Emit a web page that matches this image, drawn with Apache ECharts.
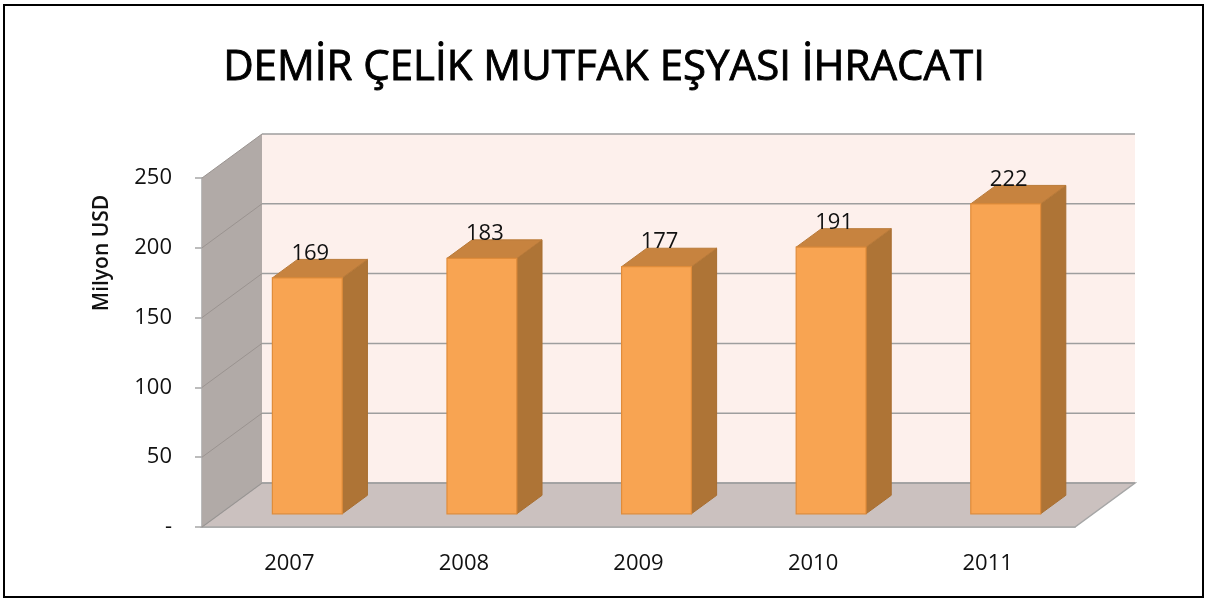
<!DOCTYPE html>
<html>
<head>
<meta charset="utf-8">
<script src="https://cdn.jsdelivr.net/npm/echarts@6/dist/echarts.min.js"></script>
<style>
  html, body { margin: 0; padding: 0; background: #fff; }
  #main { width: 1208px; height: 599px; }
</style>
</head>
<body>
<div id="main"></div>
<script>
// data
var years = ["2007", "2008", "2009", "2010", "2011"];
var values = [169, 183, 177, 191, 222];
var yTicks = [0, 50, 100, 150, 200, 250];

// 3d look: offset of the back wall from the front plane
var DEPTH = [60, -44];
var BAR_FRONT = 0.3, BAR_BACK = 0.72;
var FONT = "'Open Sans', 'Noto Sans', sans-serif";

var chart = echarts.init(document.getElementById("main"));

function renderWalls(params, api) {
  var cs = params.coordSys;
  var x0 = cs.x, x1 = cs.x + cs.width;
  var yTop = cs.y, yBot = cs.y + cs.height;
  var dx = DEPTH[0], dy = DEPTH[1];
  var children = [];
  // back wall
  children.push({
    type: "polygon",
    shape: { points: [[x0 + dx, yTop + dy], [x1 + dx, yTop + dy], [x1 + dx, yBot + dy], [x0 + dx, yBot + dy]] },
    style: { fill: "#fdf0ec" }
  });
  // side wall
  children.push({
    type: "polygon",
    shape: { points: [[x0, yBot], [x0 + dx, yBot + dy], [x0 + dx, yTop + dy], [x0, yTop]] },
    style: { fill: "#b1aaa7" }
  });
  // floor
  children.push({
    type: "polygon",
    shape: { points: [[x0, yBot], [x1, yBot], [x1 + dx, yBot + dy], [x0 + dx, yBot + dy]] },
    style: { fill: "#cbc1bf", stroke: "#a6a6a6", lineWidth: 1.5 }
  });
  // gridlines on back wall and side wall
  yTicks.forEach(function (v) {
    var y = api.coord([0, v])[1];
    children.push({
      type: "line",
      shape: { x1: x0 + dx, y1: y + dy, x2: x1 + dx, y2: y + dy },
      style: { stroke: "#9e9e9e", lineWidth: 1.5 }
    });
    children.push({
      type: "line",
      shape: { x1: x0, y1: y, x2: x0 + dx, y2: y + dy },
      style: { stroke: "#9a9390", lineWidth: 1 }
    });
  });
  return { type: "group", children: children };
}

function renderBar(params, api) {
  var i = api.value(0), v = api.value(1);
  var base = api.coord([i, 0]);
  var top = api.coord([i, v]);
  var halfW = api.size([1, 0])[0] * 0.2;
  var fx = DEPTH[0] * BAR_FRONT, fy = DEPTH[1] * BAR_FRONT;
  var bx = DEPTH[0] * (BAR_BACK - BAR_FRONT), by = DEPTH[1] * (BAR_BACK - BAR_FRONT);
  var l = base[0] - halfW + fx, r = base[0] + halfW + fx;
  var t = top[1] + fy, b = base[1] + fy;
  return {
    type: "group",
    children: [
      {
        type: "polygon",
        shape: { points: [[r, t], [r + bx, t + by], [r + bx, b + by], [r, b]] },
        style: { fill: "#ae7436", stroke: "#a86e30", lineWidth: 1 }
      },
      {
        type: "polygon",
        shape: { points: [[l, t], [l + bx, t + by], [r + bx, t + by], [r, t]] },
        style: { fill: "#c7833f", stroke: "#b97a39", lineWidth: 1 }
      },
      {
        type: "rect",
        shape: { x: l, y: t, width: r - l, height: b - t },
        style: { fill: "#f8a452", stroke: "#e08c3a", lineWidth: 1.2 }
      },
      {
        type: "text",
        x: (l + r) / 2 + 3,
        y: t + by + 5,
        style: {
          text: String(v),
          fill: "#111",
          font: "22px " + FONT,
          textAlign: "center",
          textVerticalAlign: "bottom"
        }
      }
    ]
  };
}

var option = {
  animation: false,
  backgroundColor: "#fff",
  title: {
    text: "DEMİR ÇELİK MUTFAK EŞYASI İHRACATI",
    left: "center",
    top: 42,
    textStyle: {
      fontFamily: FONT,
      fontSize: 42,
      fontWeight: "normal",
      color: "#000",
      textBorderColor: "#000",
      textBorderWidth: 0.9
    }
  },
  graphic: [
    {
      type: "rect",
      shape: { x: 4, y: 5, width: 1199, height: 592 },
      style: { fill: "none", stroke: "#000", lineWidth: 2 },
      silent: true
    },
    {
      type: "text",
      x: 102,
      y: 253,
      rotation: Math.PI / 2,
      style: {
        text: "Milyon USD",
        fill: "#111",
        font: "600 21px " + FONT,
        textAlign: "center",
        textVerticalAlign: "middle"
      },
      silent: true
    }
  ],
  grid: { left: 202, right: 133, top: 178, bottom: 72 },
  xAxis: {
    type: "category",
    data: years,
    boundaryGap: true,
    axisLine: { lineStyle: { color: "#a6a6a6", width: 1.5 } },
    axisTick: { length: 8, lineStyle: { color: "#a6a6a6", width: 1.5 } },
    axisLabel: { margin: 26, fontSize: 22, color: "#111", fontFamily: FONT },
    splitLine: { show: false }
  },
  yAxis: {
    type: "value",
    min: 0,
    max: 250,
    interval: 50,
    axisLine: { show: true, lineStyle: { color: "#a6a6a6", width: 1.5 } },
    axisTick: { show: true, length: 7, lineStyle: { color: "#a6a6a6", width: 1.5 } },
    axisLabel: {
      margin: 30,
      fontSize: 22,
      color: "#111",
      fontFamily: FONT,
      formatter: function (v) { return v === 0 ? "-" : String(v); }
    },
    splitLine: { show: false }
  },
  series: [
    {
      type: "custom",
      renderItem: renderWalls,
      data: [[0, 0]],
      silent: true,
      z: 1
    },
    {
      type: "custom",
      renderItem: renderBar,
      data: values.map(function (v, i) { return [i, v]; }),
      z: 2
    }
  ]
};

chart.setOption(option);
</script>
</body>
</html>
